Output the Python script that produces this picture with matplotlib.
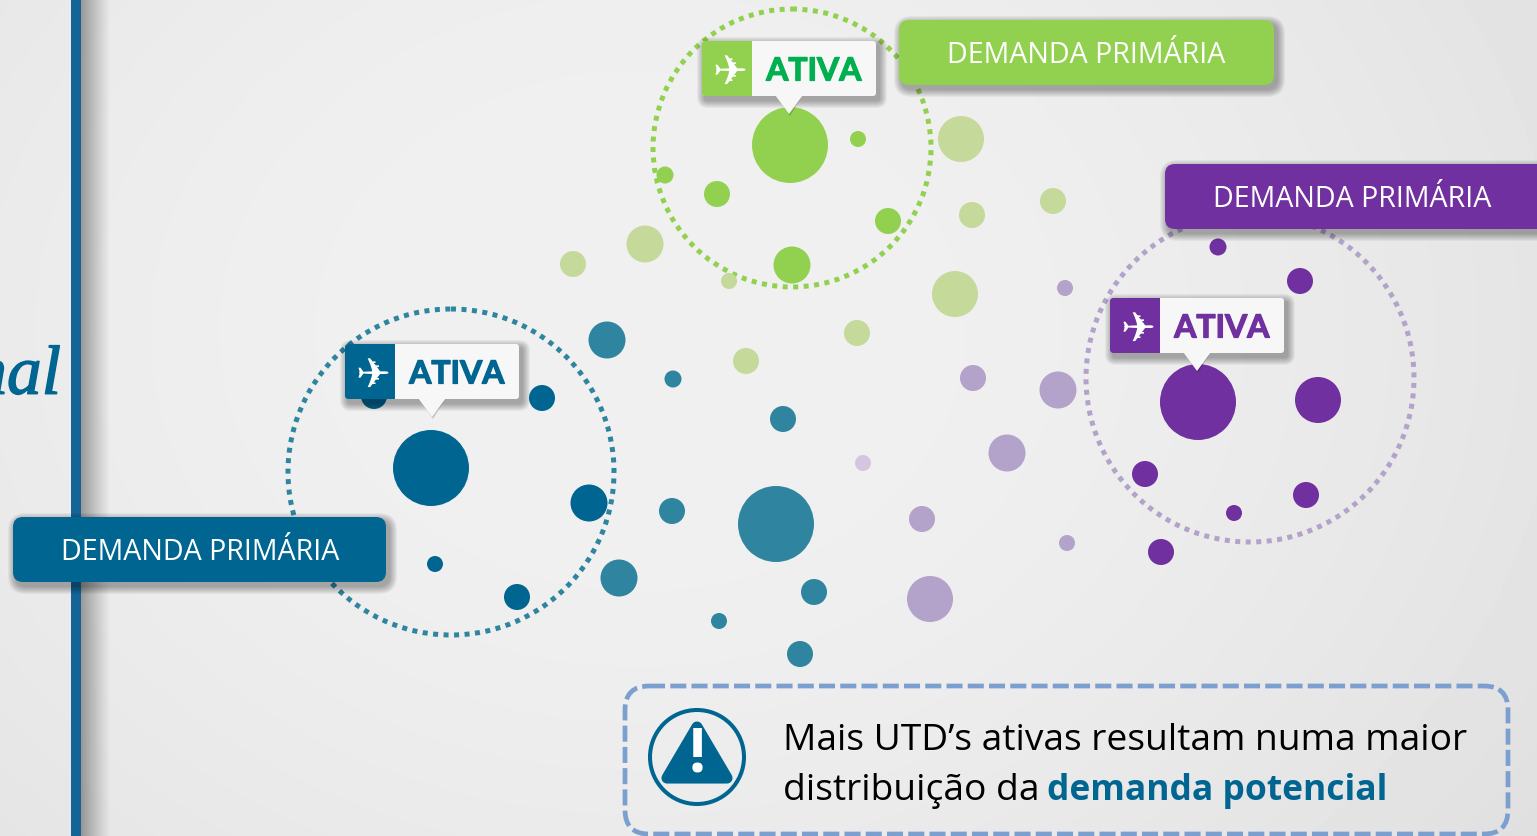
import numpy as np
import matplotlib
matplotlib.use('Agg')
import matplotlib.pyplot as plt
import matplotlib.patheffects as pe
from matplotlib.patches import Circle, FancyBboxPatch, Rectangle, Polygon

W, H = 1537, 836

# bubbles: x, y, radius
blue_x = [431, 542, 374, 589, 435, 517]
blue_y = [468, 398, 396, 503, 564, 597]
blue_r = [38, 13, 13, 18.5, 8, 13]

teal_x = [607, 673, 783, 672, 776, 619, 814, 719, 800]
teal_y = [340, 379, 419, 511, 524, 578, 592, 621, 654]
teal_r = [18.5, 8.5, 13, 13, 38, 18.5, 13, 8, 13]

green_x = [790, 858, 717, 665, 888, 792]
green_y = [145, 139, 194, 175, 221, 265]
green_r = [38, 8, 13, 8.5, 13, 18.5]

pale_green_x = [961, 1053, 972, 955, 857, 746, 645, 573, 729]
pale_green_y = [139, 201, 215, 294, 333, 361, 244, 264, 281]
pale_green_r = [23, 13, 13, 23, 13, 13, 18.5, 13, 8]

purple_x = [1198, 1318, 1300, 1218, 1145, 1306, 1234, 1161]
purple_y = [402, 400, 281, 247, 474, 495, 513, 552]
purple_r = [38, 23, 13, 8.5, 13, 13, 8, 13]

pale_purple_x = [973, 1065, 1058, 1007, 922, 1067, 930]
pale_purple_y = [378, 288, 390, 453, 519, 543, 599]
pale_purple_r = [13, 8, 18.5, 18.5, 13, 8, 23]

BLUE = '#006590'
TEAL = '#2f85a0'
GREEN = '#92d14f'
PURPLE = '#7030a0'
SANS = 'Open Sans'


def bubbles(ax, xs, ys, rs, color, z=3):
    for x, y, r in zip(xs, ys, rs):
        ax.add_patch(Circle((x, y), r, fc=color, ec='none', zorder=z))


def ring(ax, x, y, r, color):
    ax.add_patch(Circle((x, y), r, fc='none', ec=color, lw=3.6,
                        ls=(0, (1, 1.1)), zorder=2))


def shadow(ax, x0, y0, x1, y1, rad, z):
    # soft drop shadow built from stacked transparent boxes
    for g in range(8, 0, -1):
        ax.add_patch(FancyBboxPatch((x0 + 3 - g, y0 + 4 - g), x1 - x0 + 2 * g, y1 - y0 + 2 * g,
                                    boxstyle=f'round,pad=0,rounding_size={rad + g}',
                                    fc='black', ec='none', alpha=0.045, zorder=z))


def banner(ax, x0, y0, x1, y1, color, z=6):
    shadow(ax, x0, y0, x1, y1, 10, z)
    ax.add_patch(FancyBboxPatch((x0, y0), x1 - x0, y1 - y0,
                                boxstyle='round,pad=0,rounding_size=10',
                                fc=color, ec='none', zorder=z + 0.1))
    ax.text(x0 + 187, (y0 + y1) / 2 + 3, 'DEMANDA PRIMÁRIA', color='white', fontsize=20.6,
            family=SANS, ha='center', va='center', zorder=z + 0.2)


def callout(ax, x0, y0, color, text_color, z=8):
    x1, y1 = x0 + 174, y0 + 55
    tip = x0 + 87
    shadow(ax, x0, y0, x1, y1, 3, z)
    ax.add_patch(Polygon([(tip - 14, y1 - 1), (tip + 14, y1 - 1), (tip + 1, y1 + 20)],
                         fc='black', ec='none', alpha=0.18, zorder=z))
    ax.add_patch(FancyBboxPatch((x0, y0), 174, 55, boxstyle='round,pad=0,rounding_size=3',
                                fc='#f7f7f8', ec='none', zorder=z + 0.1))
    ax.add_patch(Polygon([(tip - 14, y1 - 1), (tip + 14, y1 - 1), (tip, y1 + 18)],
                         fc='#f7f7f8', ec='none', zorder=z + 0.1))
    ax.add_patch(FancyBboxPatch((x0, y0), 50, 55, boxstyle='round,pad=0,rounding_size=3',
                                fc=color, ec='none', zorder=z + 0.2))
    ax.add_patch(Rectangle((x0 + 40, y0), 10, 55, fc=color, ec='none', zorder=z + 0.2))
    ax.text(x0 + 28, y0 + 32, '\u2708', color='white', fontsize=30, family='DejaVu Sans',
            ha='center', va='center', zorder=z + 0.3)
    ax.text(x0 + 112, y0 + 30, 'ATIVA', color=text_color, fontsize=23, family='Lato',
            fontweight='bold', ha='center', va='center', zorder=z + 0.3,
            path_effects=[pe.withStroke(linewidth=0.9, foreground=text_color)])


fig = plt.figure(figsize=(W / 100, H / 100), dpi=100)
ax = fig.add_axes([0, 0, 1, 1])
ax.set_xlim(0, W)
ax.set_ylim(H, 0)
ax.axis('off')

# background
yy, xx = np.mgrid[0:H, 0:W]
dist = np.hypot((xx - 640) / 1000, (yy - 330) / 800)
bg = 0.938 - 0.085 * np.clip(dist - 0.3, 0, 1) ** 1.4
ax.imshow(bg, cmap='gray', vmin=0, vmax=1, extent=(0, W, H, 0), aspect='auto', zorder=0)

# left bar and its shadow
fade = np.linspace(0.38, 0, 30) ** 1.1
for i, a in enumerate(fade):
    ax.add_patch(Rectangle((81 + i, 0), 1, H, fc='black', ec='none', alpha=a, zorder=0.5))
ax.add_patch(Rectangle((71, 0), 10, H, fc='#156497', ec='none', zorder=1))

ax.text(61, 377, 'nal', color=BLUE, fontsize=50, family='Liberation Serif', style='italic',
        ha='right', va='center', zorder=1,
        path_effects=[pe.withStroke(linewidth=1.0, foreground=BLUE)])

ring(ax, 792, 148, 139, GREEN)
ring(ax, 451, 472, 163, TEAL)
ring(ax, 1250, 378, 164, '#b3a2c9')

bubbles(ax, pale_green_x, pale_green_y, pale_green_r, '#c5d99b')
bubbles(ax, pale_purple_x, pale_purple_y, pale_purple_r, '#b3a2c9')
ax.add_patch(Circle((863, 463), 8, fc='#d3c7e0', ec='none', zorder=3))
bubbles(ax, teal_x, teal_y, teal_r, TEAL)
bubbles(ax, blue_x, blue_y, blue_r, BLUE)
bubbles(ax, green_x, green_y, green_r, GREEN)
bubbles(ax, purple_x, purple_y, purple_r, PURPLE)

banner(ax, 899, 20, 1274, 85, GREEN)
banner(ax, 1165, 164, 1560, 229, PURPLE)
banner(ax, 13, 517, 386, 582, BLUE)

callout(ax, 702, 41, GREEN, '#00b050')
callout(ax, 345, 344, BLUE, BLUE)
callout(ax, 1110, 298, PURPLE, PURPLE)

# note box
ax.add_patch(FancyBboxPatch((625, 686), 883, 148, boxstyle='round,pad=0,rounding_size=24',
                            fc='none', ec='#7ba0d0', lw=3.4, ls=(0, (3.4, 1.1)), zorder=4))
ax.add_patch(Circle((697, 757), 47, fc='none', ec=BLUE, lw=2.9, zorder=4))
ax.add_patch(Polygon([(697, 727), (727, 778), (667, 778)], fc=BLUE, ec=BLUE, lw=8,
                     joinstyle='round', zorder=4))
ax.text(697, 756, '!', color='white', fontsize=43, family=SANS, fontweight='bold',
        ha='center', va='center', zorder=5)

ax.text(783, 741, 'Mais UTD’s ativas resultam numa maior', color='black', fontsize=26.7,
        family=SANS, va='center', zorder=5)
ax.text(783, 791, 'distribuição da', color='black', fontsize=26.7, family=SANS,
        va='center', zorder=5)
ax.text(1047, 791, 'demanda potencial', color=BLUE, fontsize=25.5, family=SANS,
        fontweight='bold', va='center', zorder=5)

fig.savefig('out.png', dpi=100)
